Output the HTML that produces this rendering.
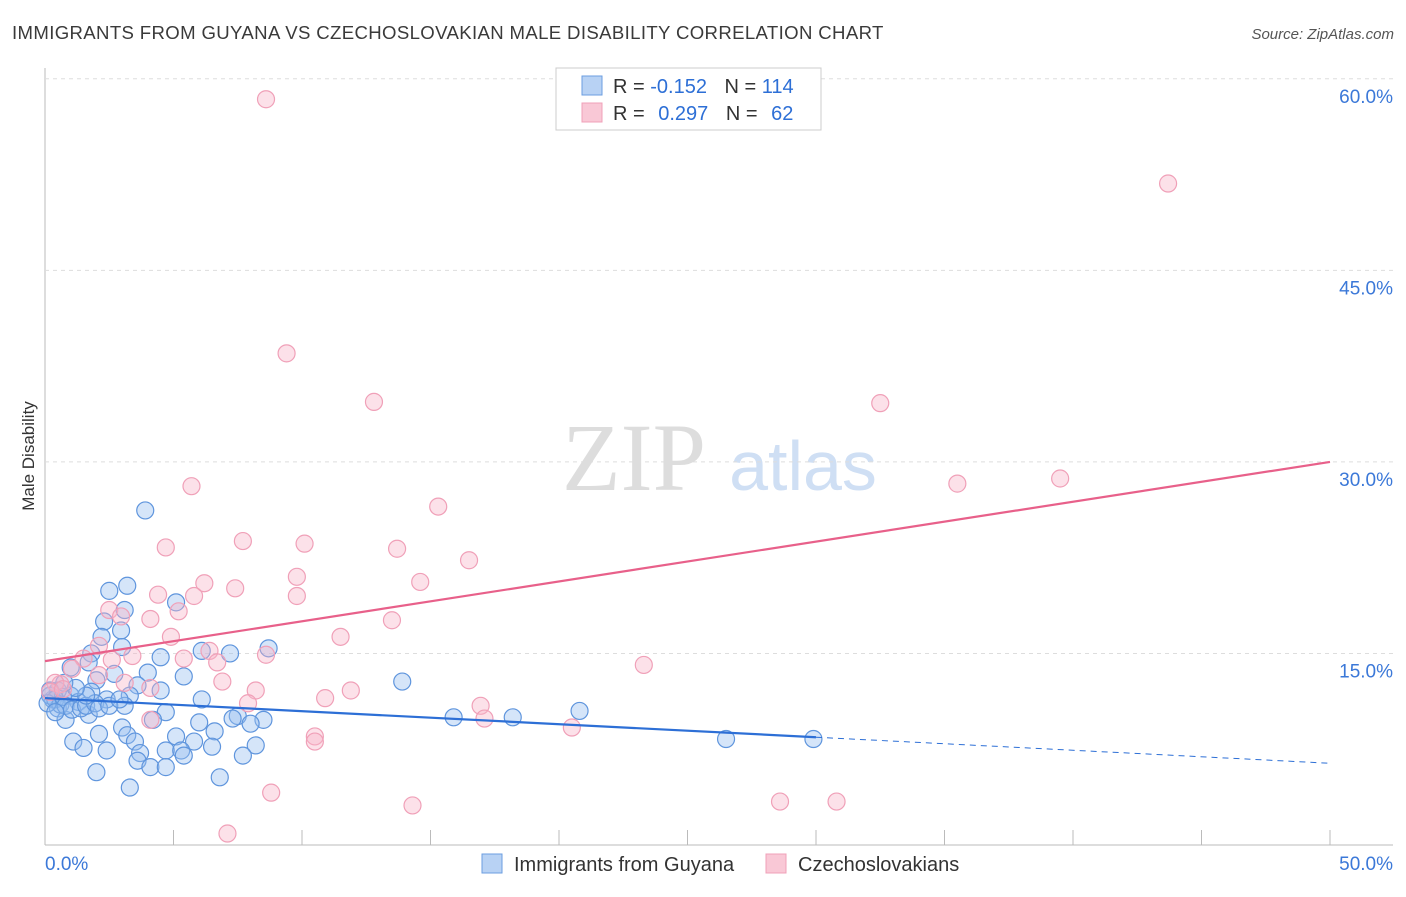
<!DOCTYPE html>
<html><head><meta charset="utf-8"><style>
body{margin:0;background:#fff;font-family:"Liberation Sans",sans-serif}
#wrap{position:relative;width:1406px;height:892px}
</style></head><body>
<div id="wrap">
<svg id="svg" width="1406" height="892" xmlns="http://www.w3.org/2000/svg">
<text x="12" y="39" font-size="18.6" letter-spacing="0.35" fill="#3a3a3a">IMMIGRANTS FROM GUYANA VS CZECHOSLOVAKIAN MALE DISABILITY CORRELATION CHART</text>
<text x="1394" y="39" font-size="15" fill="#555" text-anchor="end" font-style="italic">Source: ZipAtlas.com</text>
<text x="34" y="456" font-size="17" fill="#333" text-anchor="middle" transform="rotate(-90 34 456)">Male Disability</text>
<text x="634" y="490" font-size="96" fill="#ddd" font-family="Liberation Serif" text-anchor="middle">ZIP</text>
<text x="803" y="490" font-size="70" fill="#cfdff4" text-anchor="middle">atlas</text>
<g id="grid"></g><g id="marks"></g>
<g>
<rect x="556" y="68" width="265" height="62" fill="#fff" stroke="#ccc"/>
<rect x="582" y="76" width="20" height="19" fill="#b8d2f4" stroke="#6b9ee0"/>
<rect x="582" y="103" width="20" height="19" fill="#f9c8d6" stroke="#f0a0b8"/>
<text x="613" y="93" font-size="20" fill="#333">R = <tspan fill="#2d6fd6">-0.152</tspan>  <tspan dx="12">N = </tspan><tspan fill="#2d6fd6">114</tspan></text>
<text x="613" y="120" font-size="20" fill="#333">R = <tspan fill="#2d6fd6" dx="8">0.297</tspan>  <tspan dx="12">N = </tspan><tspan fill="#2d6fd6" dx="8">62</tspan></text>
</g>
<g>
<rect x="482" y="854" width="20" height="19" fill="#b8d2f4" stroke="#6b9ee0"/>
<text x="514" y="871" font-size="20" fill="#333">Immigrants from Guyana</text>
<rect x="766" y="854" width="20" height="19" fill="#f9c8d6" stroke="#f0a0b8"/>
<text x="798" y="871" font-size="20" fill="#333">Czechoslovakians</text>
</g>
</svg></div>
<script>
const yTicks=[15,30,45,60];
const yTickLabels=["15.0%","30.0%","45.0%","60.0%"];
const xTickLabels=["0.0%","50.0%"];
const guyanaX=[3.9,3.2,2.5,3.1,2.3,2.96,2.2,5.1,8.7,7.2,6.1,3.0,1.8,4.5,1.7,1.0,4.0,5.4,2.7,13.9,2.0,3.6,4.5,3.3,1.8,1.0,0.5,0.3,6.1,2.4,1.3,0.5,3.1,4.7,7.5,8.5,7.3,15.9,18.2,20.8,4.2,6.0,8.0,1.7,0.8,3.0,3.2,6.6,5.1,5.8,1.1,2.1,3.5,8.2,26.5,29.9,6.5,4.7,5.3,2.4,1.5,3.7,7.7,3.6,5.4,4.1,4.7,2.0,6.8,3.3,0.2,0.4,0.6,0.1,0.7,0.8,0.4,1.05,1.4,1.6,1.95,2.1,2.5,2.9,1.6,1.2,0.75,0.2];
const guyanaY=[26.2,20.3,19.9,18.4,17.5,16.8,16.3,19.0,15.4,15.0,15.2,15.5,15.0,14.7,14.3,13.9,13.5,13.2,13.4,12.8,12.9,12.5,12.1,11.7,12.0,11.7,12.1,11.4,11.4,11.4,11.2,10.7,10.9,10.4,10.1,9.8,9.9,10.0,10.0,10.5,9.8,9.6,9.5,10.2,9.8,9.2,8.6,8.9,8.5,8.1,8.1,8.7,8.1,7.8,8.3,8.3,7.7,7.4,7.4,7.4,7.6,7.2,7.0,6.6,7.0,6.1,6.1,5.7,5.3,4.5,11.7,11.4,11.0,11.1,11.6,10.9,10.4,10.6,10.7,10.9,11.1,10.7,10.9,11.4,11.7,12.3,12.7,12.1];
const czechX=[8.6,43.7,9.4,12.8,32.5,5.7,35.5,39.5,15.3,7.7,10.1,4.7,13.7,16.5,9.8,6.2,14.6,7.4,4.4,5.8,9.8,2.5,5.2,2.96,4.1,13.5,11.5,4.9,2.1,6.4,8.6,3.4,5.4,6.7,2.6,23.3,1.5,1.05,2.1,6.9,3.1,0.6,4.1,8.2,11.9,10.9,7.9,16.95,17.1,4.1,10.5,10.5,20.5,8.8,14.3,28.6,30.8,7.1,0.4,0.2,0.7];
const czechY=[58.4,51.8,38.5,34.7,34.6,28.1,28.3,28.7,26.5,23.8,23.6,23.3,23.2,22.3,21.0,20.5,20.6,20.1,19.6,19.5,19.5,18.4,18.3,17.9,17.7,17.6,16.3,16.3,15.6,15.2,14.9,14.8,14.6,14.3,14.5,14.1,14.6,13.8,13.3,12.8,12.7,12.6,12.3,12.1,12.1,11.5,11.1,10.9,9.9,9.8,8.5,8.1,9.2,4.1,3.1,3.4,3.4,0.9,12.7,12.0,12.2];
const guyanaTrend=[11.5,6.4]; const guyanaSolidEnd=30;
const czechTrend=[14.4,30.0];
const X=v=>45+v*25.7, Y=v=>845-v*12.77;
const NS="http://www.w3.org/2000/svg";
const grid=document.getElementById('grid'), marks=document.getElementById('marks');
function mk(tag,attrs,parent){const e=document.createElementNS(NS,tag);for(const k in attrs)e.setAttribute(k,attrs[k]);parent.appendChild(e);return e;}
let ax=mk('line',{x1:45,y1:68,x2:45,y2:845,stroke:'#bbb'},grid);

let bx=mk('line',{x1:45,y1:845,x2:1393,y2:845,stroke:'#bbb'},grid);

for(let i=1;i<=10;i++){let t=mk('line',{x1:X(i*5),y1:830,x2:X(i*5),y2:845,stroke:'#bbb'},grid);}
yTicks.forEach((v,i)=>{let g=mk('line',{x1:45,y1:Y(v),x2:1393,y2:Y(v),stroke:'#ddd','stroke-dasharray':'4,4'},grid);

let t=mk('text',{x:1393,y:Y(v)+24,'font-size':19,fill:'#3b78d8','text-anchor':'end'},grid);t.textContent=yTickLabels[i];
});
[[0,45,'start'],[50,1393,'end']].forEach((a,i)=>{let t=mk('text',{x:a[1],y:870,'font-size':19,fill:'#3b78d8','text-anchor':a[2]},grid);t.textContent=xTickLabels[i];
});
guyanaX.forEach((x,i)=>{let c=mk('circle',{cx:X(x),cy:Y(guyanaY[i]),r:8.5,fill:'rgba(150,190,240,0.4)',stroke:'#5f95dd','stroke-width':1.2},marks);
});
czechX.forEach((x,i)=>{let c=mk('circle',{cx:X(x),cy:Y(czechY[i]),r:8.5,fill:'rgba(248,180,200,0.4)',stroke:'#f0a0b8','stroke-width':1.2},marks);
});
const gy=x=>guyanaTrend[0]+(guyanaTrend[1]-guyanaTrend[0])*x/50;
let l1=mk('line',{x1:X(0),y1:Y(gy(0)),x2:X(guyanaSolidEnd),y2:Y(gy(guyanaSolidEnd)),stroke:'#2d6fd6','stroke-width':2.2},marks);

let l2=mk('line',{x1:X(guyanaSolidEnd),y1:Y(gy(guyanaSolidEnd)),x2:X(50),y2:Y(gy(50)),stroke:'#2d6fd6','stroke-width':1,'stroke-dasharray':'6,5'},marks);

let l3=mk('line',{x1:X(0),y1:Y(czechTrend[0]),x2:X(50),y2:Y(czechTrend[1]),stroke:'#e8608a','stroke-width':2.2},marks);

</script></body></html>
